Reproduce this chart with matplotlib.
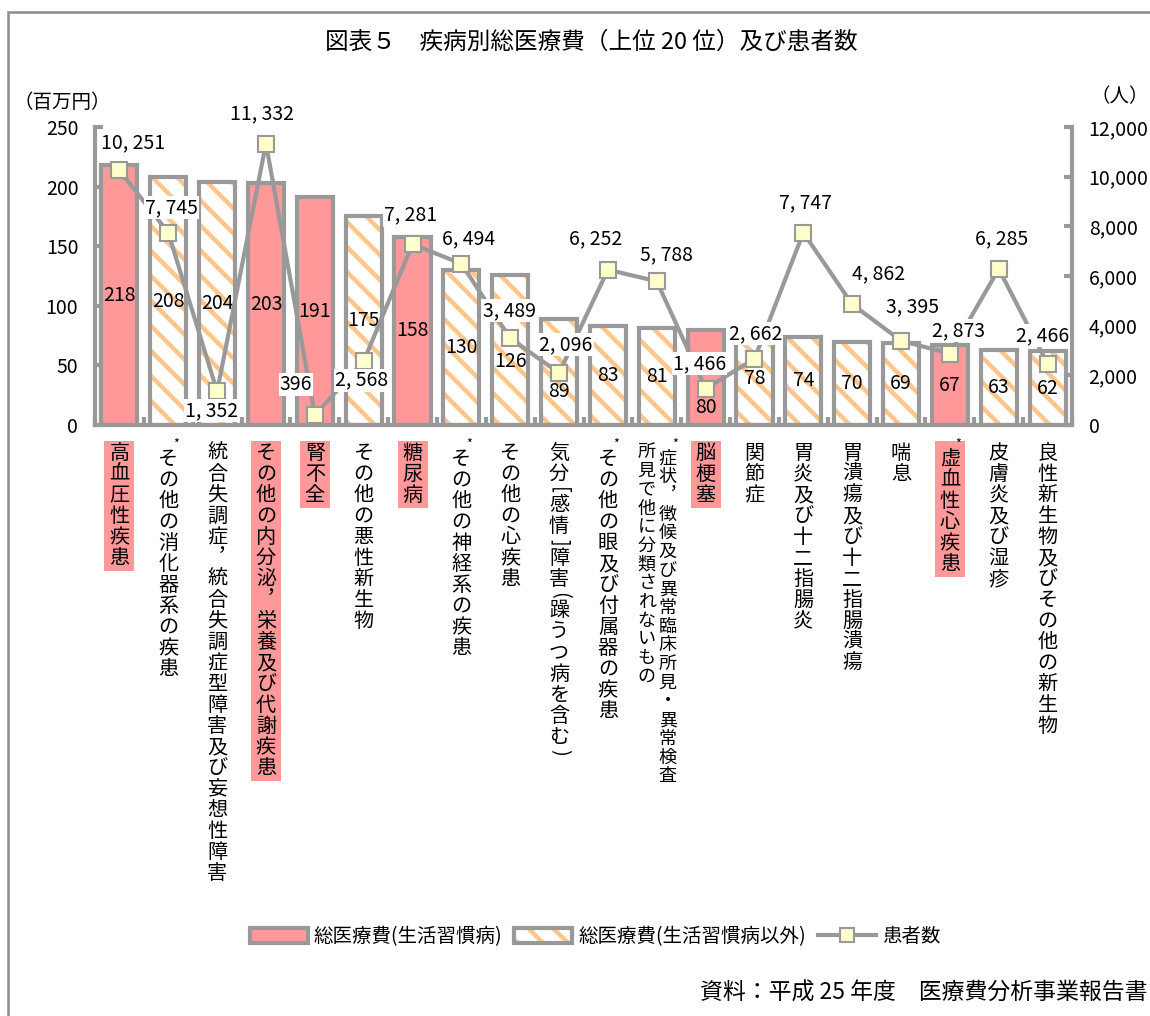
import numpy as np
import matplotlib
matplotlib.use("Agg")
import matplotlib.pyplot as plt
from matplotlib.backend_bases import GraphicsContextBase
from matplotlib.patches import Rectangle, Patch
from matplotlib.lines import Line2D
from matplotlib.legend_handler import HandlerTuple
from matplotlib.ticker import FuncFormatter, MultipleLocator

plt.rcParams['font.family'] = ['Noto Sans CJK JP', 'DejaVu Sans']
plt.rcParams['hatch.linewidth'] = 3.2

# slightly finer diagonal stripes than the default hatch density
_hatch_path = GraphicsContextBase.get_hatch_path
GraphicsContextBase.get_hatch_path = lambda self, density=8.0: _hatch_path(self, density)

# ---- data -------------------------------------------------------------
categories = [
    "高血圧性疾患",
    "その他の消化器系の疾患",
    "統合失調症，統合失調症型障害及び妄想性障害",
    "その他の内分泌，栄養及び代謝疾患",
    "腎不全",
    "その他の悪性新生物",
    "糖尿病",
    "その他の神経系の疾患",
    "その他の心疾患",
    "気分［感情］障害（躁うつ病を含む）",
    "その他の眼及び付属器の疾患",
    "症状，徴候及び異常臨床所見・異常検査所見で他に分類されないもの",
    "脳梗塞",
    "関節症",
    "胃炎及び十二指腸炎",
    "胃潰瘍及び十二指腸潰瘍",
    "喘息",
    "虚血性心疾患",
    "皮膚炎及び湿疹",
    "良性新生物及びその他の新生物",
]
costs = [218, 208, 204, 203, 191, 175, 158, 130, 126, 89,
         83, 81, 80, 78, 74, 70, 69, 67, 63, 62]          # 百万円
patients = [10251, 7745, 1352, 11332, 396, 2568, 7281, 6494, 3489, 2096,
            6252, 5788, 1466, 2662, 7747, 4862, 3395, 2873, 6285, 2466]  # 人
lifestyle = [True, False, False, True, True, False, True, False, False, False,
             False, False, True, False, False, False, False, True, False, False]
starred = [False, True, False, False, False, False, False, True, False, False,
           True, True, False, False, False, False, False, True, False, False]
legend_labels = ["総医療費(生活習慣病)", "総医療費(生活習慣病以外)", "患者数"]
title = "図表５　疾病別総医療費（上位 20 位）及び患者数"
source = "資料：平成 25 年度　医療費分析事業報告書"

# ---- styling / layout -------------------------------------------------
W, H, DPI = 1150, 1016, 100
GRAY = '#999999'
PINK = '#ff9999'
ORANGE = '#ffc58a'
CREAM = '#ffffcc'

# pixel nudges for value labels (dx, dy; dy positive = downward)
cost_label_nudge = {8: 12, 9: 20, 12: 30}
patient_label_offset = {
    0: (14, -28), 1: (3, -25), 2: (-6, 19), 3: (-4, -30), 4: (-19, -31),
    5: (-2, 19), 6: (-2, -29), 7: (7, -25), 8: (-1, -28), 9: (7, -28),
    10: (-12, -31), 11: (10, -26), 12: (-6, -25), 13: (1, -25), 14: (2, -30),
    15: (26, -30), 16: (11, -34), 17: (9, -23), 18: (3, -30), 19: (-5, -28),
}

fig = plt.figure(figsize=(W / DPI, H / DPI), dpi=DPI)
ax = fig.add_axes([95 / W, 1 - 425 / H, (1072 - 95) / W, (425 - 127) / H])

x = np.arange(len(costs))
bw = 0.74

# bars: fill, hatch, outline
ax.bar(x, costs, width=bw, color=[PINK if l else 'white' for l in lifestyle],
       edgecolor='none', linewidth=0, zorder=2)
hx = [i for i in x if not lifestyle[i]]
ax.bar(hx, [costs[i] for i in hx], width=bw, facecolor='none', edgecolor=ORANGE,
       hatch='\\', linewidth=0, zorder=2)
ax.bar(x, costs, width=bw, facecolor='none', edgecolor=GRAY, linewidth=3, zorder=3)

ax.set_xlim(-0.5, len(costs) - 0.5)
ax.set_ylim(0, 250)
ax.yaxis.set_major_locator(MultipleLocator(50))
ax.set_xticks(np.arange(-0.5, len(costs), 1.0))
ax.tick_params(axis='x', direction='in', length=6, width=3, color=GRAY, labelbottom=False)
ax.tick_params(axis='y', direction='in', length=6, width=3, color=GRAY, labelsize=14, pad=12)
for s in ('top', 'right'):
    ax.spines[s].set_visible(False)
for s in ('left', 'bottom'):
    ax.spines[s].set_color(GRAY)
    ax.spines[s].set_linewidth(3)

for i, v in enumerate(costs):
    ax.annotate(str(v), xy=(i, v / 2), xytext=(0, -cost_label_nudge.get(i, 0)),
                textcoords='offset pixels', ha='center', va='center',
                fontsize=14, zorder=4)

# patients line on the secondary axis
ax2 = ax.twinx()
ax2.plot(x, patients, color=GRAY, lw=3, marker='s', ms=11, mfc=CREAM, mec=GRAY,
         mew=1.5, zorder=3, clip_on=False)
ax2.set_ylim(0, 12000)
ax2.yaxis.set_major_locator(MultipleLocator(2000))
ax2.yaxis.set_major_formatter(FuncFormatter(lambda v, p: f"{int(v):,}"))
ax2.tick_params(axis='y', direction='in', length=6, width=3, color=GRAY, labelsize=14, pad=12)
for s in ('top', 'left', 'bottom'):
    ax2.spines[s].set_visible(False)
ax2.spines['right'].set_color(GRAY)
ax2.spines['right'].set_linewidth(3)

for i, v in enumerate(patients):
    dx, dy = patient_label_offset[i]
    ax2.annotate(f"{v:,}".replace(",", ", "), xy=(i, v), xytext=(dx, -dy),
                 textcoords='offset pixels', ha='center', va='center', fontsize=14,
                 zorder=6, bbox=dict(boxstyle='square,pad=0.05', fc='white', ec='none'))

# ---- vertical category labels ------------------------------------------
VERT = {"，": "︐"}
# brackets are written with their narrow forms turned a quarter for vertical text
TURNED = {"［": "[", "］": "]", "（": "(", "）": ")"}
column_break = {11: 18}


def draw_column(cx, top, text, fs, pitch):
    y = top
    for ch in text:
        if ch in TURNED:
            step = pitch * 0.5
            fig.text(cx / W, 1 - (y + step / 2) / H, TURNED[ch], ha='center', va='center',
                     fontsize=fs, rotation=-90)
        else:
            step = pitch
            fig.text(cx / W, 1 - (y + step / 2) / H, VERT.get(ch, ch), ha='center',
                     va='center', fontsize=fs)
        y += step
    return y


for i, name in enumerate(categories):
    cx = ax.transData.transform((i, 0))[0]
    top = 443 + (6 if starred[i] else 0)
    if i in column_break:
        k = column_break[i]
        draw_column(cx + 11, top, name[:k], 13, 18.7)
        draw_column(cx - 10, 443, name[k:], 13, 18.7)
        ast_x = cx + 18
    else:
        bottom = draw_column(cx, top, name, 14.5, 21)
        ast_x = cx + 8
        if lifestyle[i]:
            fig.add_artist(Rectangle(((cx - 15) / W, 1 - (bottom + 2) / H), 30 / W,
                                     (bottom + 2 - 441) / H, transform=fig.transFigure,
                                     facecolor=PINK, edgecolor='none', zorder=1))
    if starred[i]:
        fig.text(ast_x / W, 1 - 444 / H, "*", ha='center', va='center', fontsize=9)

# ---- titles, units, legend, source -------------------------------------
fig.text(591 / W, 1 - 42 / H, title, ha='center', va='center', fontsize=17)
fig.text(62 / W, 1 - 103 / H, "（百万円）", ha='center', va='center', fontsize=14)
fig.text(1120 / W, 1 - 97 / H, "（人）", ha='center', va='center', fontsize=14)

h1 = Patch(facecolor=PINK, edgecolor=GRAY, linewidth=3)
h2 = (Patch(facecolor='white', edgecolor=ORANGE, hatch='\\', linewidth=0),
      Patch(facecolor='none', edgecolor=GRAY, linewidth=3))
h3 = Line2D([], [], color=GRAY, lw=3, marker='s', ms=10, mfc=CREAM, mec=GRAY, mew=1.5)
fig.legend([h1, h2, h3], legend_labels, loc='center', bbox_to_anchor=(595 / W, 1 - 937 / H),
           ncol=3, frameon=False, fontsize=14,
           handler_map={tuple: HandlerTuple(ndivide=1, pad=0)},
           handlelength=3.0, handleheight=0.8, columnspacing=0.6, handletextpad=0.3)

fig.text(1148 / W, 1 - 993 / H, source, ha='right', va='center', fontsize=16.5)

# outer frame
fig.add_artist(Rectangle((8 / W, -0.1), 1.2, 1.1 - 12 / H, transform=fig.transFigure,
                         fill=False, edgecolor='#8c8c8c', linewidth=1.8, zorder=0))

fig.savefig("out.png", dpi=DPI)
